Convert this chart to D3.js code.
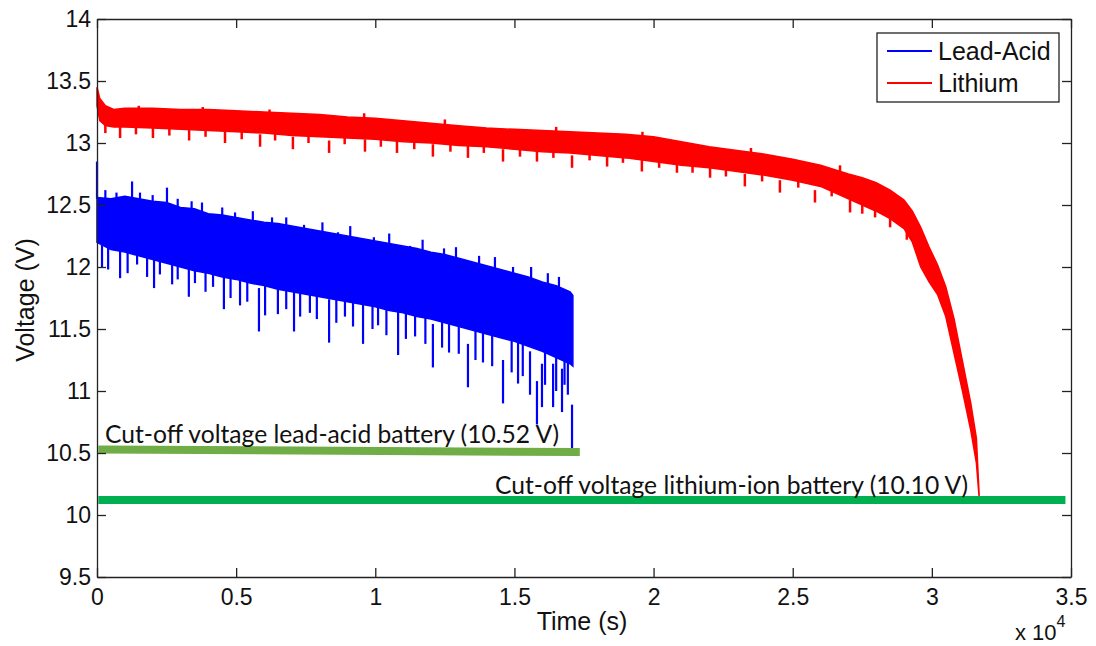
<!DOCTYPE html>
<html lang="en">
<head>
<meta charset="UTF-8">
<title>Battery discharge voltage</title>
<script src="https://d3js.org/d3.v7.min.js"></script>
<style>
    body { margin: 0; background: white; }
    text { font-family: Arial, "Liberation Sans", Helvetica, sans-serif; fill: #111; }
</style>
</head>
<body>
<script>
    // ---- data (time in s, voltage in V) ----
    // lead-acid: dense band (upper / lower edge), plus the single peaks and dips
    const leadTime  = [0, 500, 1000, 1500, 2000, 2500, 3000, 3500, 4000, 4500, 5000, 5500, 6000, 6500, 7000, 7500, 8000, 8500,
                       9000, 9500, 10000, 10500, 11000, 11500, 12000, 12500, 13000, 13500, 14000, 14500, 15000, 15500, 16000, 16500, 17000, 17100];
    const leadUpper = [12.56, 12.55, 12.57, 12.55, 12.53, 12.52, 12.48, 12.47, 12.43, 12.42, 12.40, 12.38, 12.36, 12.35, 12.33, 12.31, 12.29, 12.27,
                       12.25, 12.23, 12.21, 12.19, 12.17, 12.15, 12.12, 12.10, 12.07, 12.04, 12.01, 11.98, 11.95, 11.92, 11.88, 11.85, 11.80, 11.77];
    const leadLower = [12.20, 12.14, 12.12, 12.09, 12.06, 12.03, 12.00, 11.97, 11.95, 11.92, 11.90, 11.87, 11.85, 11.82, 11.80, 11.78, 11.76, 11.74,
                       11.72, 11.70, 11.68, 11.65, 11.63, 11.60, 11.58, 11.55, 11.52, 11.49, 11.46, 11.43, 11.40, 11.36, 11.32, 11.27, 11.22, 11.20];
    const leadPeakTime = [0, 300, 700, 1260, 1545, 2000, 2515, 2900, 3400, 3773, 4500, 4960, 5600, 6290, 6800, 7440, 8100, 8660, 9100, 9950,
                          10500, 11250, 11700, 12470, 12900, 13730, 14300, 14950, 15600, 16200, 16600];
    const leadPeakV    = [12.85, 12.62, 12.60, 12.69, 12.60, 12.58, 12.64, 12.55, 12.53, 12.52, 12.48, 12.44, 12.45, 12.40, 12.40, 12.34, 12.36, 12.28, 12.33, 12.24,
                          12.27, 12.17, 12.22, 12.15, 12.16, 12.09, 12.08, 12.00, 12.00, 11.95, 11.92];
    const leadDipTime = [180, 400, 830, 1100, 1440, 1800, 2050, 2260, 2700, 2900, 3300, 3520, 3900, 4170, 4560, 4800, 5140, 5400, 5820, 6040,
                         6500, 6800, 7080, 7300, 7650, 7900, 8340, 8600, 8910, 9200, 9560, 9900, 10100, 10400, 10820, 11100, 11430, 11800, 12070,
                         12400, 12650, 13000, 13330, 13600, 13870, 14200, 14590, 14900, 15130, 15300, 15560, 15810, 15990, 16100, 16390, 16500,
                         16710, 16800, 16920, 17070];
    const leadDipV    = [12.00, 11.98, 11.91, 11.95, 12.02, 11.92, 11.83, 11.94, 11.86, 11.90, 11.76, 11.87, 11.80, 11.84, 11.66, 11.75, 11.69, 11.72, 11.48, 11.61,
                         11.62, 11.66, 11.48, 11.60, 11.63, 11.58, 11.39, 11.55, 11.60, 11.52, 11.38, 11.50, 11.53, 11.45, 11.29, 11.42, 11.44, 11.38, 11.19,
                         11.35, 11.31, 11.30, 11.03, 11.25, 11.23, 11.20, 10.90, 11.15, 11.06, 11.12, 10.97, 10.73, 10.87, 11.05, 10.87, 11.00,
                         10.83, 11.05, 10.97, 10.54];

    // lithium: dense band, plus the single dips
    const lithTime  = [0, 100, 300, 600, 1000, 2000, 3000, 4000, 5000, 6000, 7000, 8000, 9000, 10000, 11000, 12000, 13000, 14000, 15000, 16000,
                       17000, 18000, 19000, 20000, 21000, 22000, 23000, 24000, 25000, 26000, 27000, 27500, 28000, 28500, 29000, 29300, 29600,
                       29900, 30200, 30500, 30800, 31100, 31400, 31600, 31700];
    const lithUpper = [13.45, 13.36, 13.30, 13.27, 13.28, 13.28, 13.27, 13.27, 13.26, 13.25, 13.24, 13.23, 13.21, 13.20, 13.18, 13.16, 13.14, 13.12, 13.11, 13.10,
                       13.09, 13.08, 13.07, 13.05, 13.01, 12.97, 12.94, 12.91, 12.87, 12.82, 12.75, 12.72, 12.68, 12.62, 12.54, 12.45, 12.32,
                       12.16, 12.02, 11.84, 11.58, 11.24, 10.90, 10.62, 10.16];
    const lithLower = [13.30, 13.18, 13.14, 13.13, 13.13, 13.12, 13.11, 13.10, 13.09, 13.08, 13.06, 13.05, 13.04, 13.03, 13.01, 13.00, 12.98, 12.97, 12.95, 12.93,
                       12.92, 12.90, 12.88, 12.85, 12.82, 12.80, 12.77, 12.74, 12.70, 12.65, 12.55, 12.50, 12.45, 12.39, 12.31, 12.20, 12.00,
                       11.88, 11.78, 11.60, 11.30, 11.00, 10.68, 10.42, 10.14];
    const lithDipTime = [300, 830, 1400, 2010, 2600, 3310, 3900, 4600, 5200, 5860, 6400, 7040, 7600, 8340, 8900, 9630, 10200, 10780, 11400, 12070,
                         12700, 13330, 13900, 14590, 15200, 15810, 16400, 17070, 17700, 18330, 18900, 19580, 20200, 20840, 21400, 22030, 22600, 23280,
                         23900, 24540, 25200, 25800, 26400, 27060, 27500, 27960, 28500, 29100];
    const lithDipV    = [13.08, 13.04, 13.07, 13.04, 13.06, 13.02, 13.05, 13.00, 13.03, 12.97, 13.02, 12.95, 13.00, 12.92, 12.99, 12.93, 12.97, 12.92, 12.95, 12.89,
                         12.93, 12.88, 12.92, 12.85, 12.89, 12.85, 12.88, 12.80, 12.86, 12.81, 12.84, 12.77, 12.80, 12.76, 12.76, 12.72, 12.73, 12.65,
                         12.69, 12.60, 12.64, 12.52, 12.57, 12.44, 12.43, 12.40, 12.32, 12.22];
    const lithPeakTime = [1500, 3800, 6200, 9600, 12500, 16500, 19600, 23500, 26700];
    const lithPeakV    = [13.30, 13.29, 13.27, 13.24, 13.19, 13.13, 13.09, 12.96, 12.82];

    // hand-drawn cut-off lines: [start time, start V, end time, end V]
    const leadCutoff = [50, 10.528, 17350, 10.508];
    const lithCutoff = [50, 10.12, 34800, 10.12];
    const cutoffLabels = ["Cut-off voltage lead-acid battery (10.52 V)", "Cut-off voltage lithium-ion battery (10.10 V)"];

    const xTickValues = [0, 5000, 10000, 15000, 20000, 25000, 30000, 35000];
    const xTickLabels = ["0", "0.5", "1", "1.5", "2", "2.5", "3", "3.5"];
    const yTickValues = [9.5, 10, 10.5, 11, 11.5, 12, 12.5, 13, 13.5, 14];
    const yTickLabels = ["9.5", "10", "10.5", "11", "11.5", "12", "12.5", "13", "13.5", "14"];
    const seriesNames = ["Lead-Acid", "Lithium"];
    const seriesColors = ["#0000ff", "#ff0000"];

    // ---- layout ----
    let width = 1096;
    let height = 646;
    let plotLeft = 97, plotRight = 1071, plotTop = 19, plotBottom = 577;

    let svg = d3.select('body').append('svg')
        .attr('width', width)
        .attr('height', height);

    let x = d3.scaleLinear().domain([0, 35000]).range([plotLeft, plotRight]);
    let y = d3.scaleLinear().domain([9.5, 14]).range([plotBottom, plotTop]);

    // noisy band drawn as area + single spikes
    function drawSeries(time, upper, lower, peakT, peakV, peakLen, dipT, dipV, dipLen, color, spikeWidth) {
        let rows = time.map((t, i) => ({ t: t, hi: upper[i], lo: lower[i] }));
        let area = d3.area()
            .x(d => x(d.t))
            .y0(d => y(d.lo))
            .y1(d => y(d.hi));
        svg.append('path')
            .datum(rows)
            .attr('d', area)
            .attr('fill', color)
            .attr('stroke', color)
            .attr('stroke-width', 1.5);

        svg.append('g').selectAll('line')
            .data(peakT.map((t, i) => ({ t: t, v: peakV[i] })))
            .enter().append('line')
            .attr('x1', d => x(d.t)).attr('x2', d => x(d.t))
            .attr('y1', d => y(d.v)).attr('y2', d => y(d.v - peakLen))
            .attr('stroke', color).attr('stroke-width', spikeWidth);

        svg.append('g').selectAll('line')
            .data(dipT.map((t, i) => ({ t: t, v: dipV[i] })))
            .enter().append('line')
            .attr('x1', d => x(d.t)).attr('x2', d => x(d.t))
            .attr('y1', d => y(d.v)).attr('y2', d => y(d.v + dipLen))
            .attr('stroke', color).attr('stroke-width', spikeWidth);
    }

    drawSeries(lithTime, lithUpper, lithLower, lithPeakTime, lithPeakV, 0.1, lithDipTime, lithDipV, 0.1, seriesColors[1], 2.5);
    drawSeries(leadTime, leadUpper, leadLower, leadPeakTime, leadPeakV, 0.3, leadDipTime, leadDipV, 0.35, seriesColors[0], 2.2);

    // cut-off annotations
    svg.append('line')
        .attr('x1', x(leadCutoff[0])).attr('y1', y(leadCutoff[1]))
        .attr('x2', x(leadCutoff[2])).attr('y2', y(leadCutoff[3]))
        .attr('stroke', '#70ad47').attr('stroke-width', 8);
    svg.append('line')
        .attr('x1', x(lithCutoff[0])).attr('y1', y(lithCutoff[1]))
        .attr('x2', x(lithCutoff[2])).attr('y2', y(lithCutoff[3]))
        .attr('stroke', '#00b050').attr('stroke-width', 8);

    svg.append('text')
        .attr('x', 105).attr('y', 443)
        .attr('textLength', 454).attr('lengthAdjust', 'spacingAndGlyphs')
        .style('font-family', 'Lato, "Open Sans", sans-serif').style('font-size', '25px')
        .text(cutoffLabels[0]);
    svg.append('text')
        .attr('x', 495).attr('y', 494)
        .attr('textLength', 473).attr('lengthAdjust', 'spacingAndGlyphs')
        .style('font-family', 'Lato, "Open Sans", sans-serif').style('font-size', '25px')
        .text(cutoffLabels[1]);

    // ---- axes (matlab style box, ticks pointing in) ----
    svg.append('g')
        .attr('transform', 'translate(0,' + plotBottom + ')')
        .call(d3.axisBottom(x).tickValues(xTickValues).tickFormat((d, i) => xTickLabels[i])
            .tickSizeInner(-9).tickSizeOuter(0).tickPadding(12));
    svg.append('g')
        .attr('transform', 'translate(' + plotLeft + ',0)')
        .call(d3.axisLeft(y).tickValues(yTickValues).tickFormat((d, i) => yTickLabels[i])
            .tickSizeInner(-9).tickSizeOuter(0).tickPadding(6));
    svg.append('g')
        .attr('transform', 'translate(0,' + plotTop + ')')
        .call(d3.axisTop(x).tickValues(xTickValues).tickFormat('').tickSizeInner(-9).tickSizeOuter(0));
    svg.append('g')
        .attr('transform', 'translate(' + plotRight + ',0)')
        .call(d3.axisRight(y).tickValues(yTickValues).tickFormat('').tickSizeInner(-9).tickSizeOuter(0));

    svg.selectAll('.domain, .tick line').attr('stroke', '#222').attr('stroke-width', 1.3);
    svg.selectAll('.tick text')
        .attr('font-family', null)
        .style('font-family', 'Arial, "Liberation Sans", sans-serif')
        .style('font-size', '23px').attr('fill', '#111');

    // axis titles
    svg.append('text')
        .attr('x', 582).attr('y', 630)
        .attr('text-anchor', 'middle').style('font-size', '25px')
        .text('Time (s)');
    svg.append('text')
        .attr('transform', 'translate(34,300) rotate(-90)')
        .attr('text-anchor', 'middle').style('font-size', '25px')
        .text('Voltage (V)');
    let mult = svg.append('text').attr('x', 1015).attr('y', 640).style('font-size', '22px');
    mult.append('tspan').text('x 10');
    mult.append('tspan').attr('dy', -13).style('font-size', '16px').text('4');

    // ---- legend ----
    let legend = svg.append('g');
    legend.append('rect')
        .attr('x', 877).attr('y', 33).attr('width', 182).attr('height', 69)
        .attr('fill', 'white').attr('stroke', '#222').attr('stroke-width', 1.3);
    seriesNames.forEach((name, i) => {
        let ly = 51 + i * 32;
        legend.append('line')
            .attr('x1', 887).attr('x2', 932).attr('y1', ly).attr('y2', ly)
            .attr('stroke', seriesColors[i]).attr('stroke-width', 2);
        legend.append('text')
            .attr('x', 938).attr('y', ly + 9)
            .style('font-size', '25px')
            .text(name);
    });
</script>
</body>
</html>
